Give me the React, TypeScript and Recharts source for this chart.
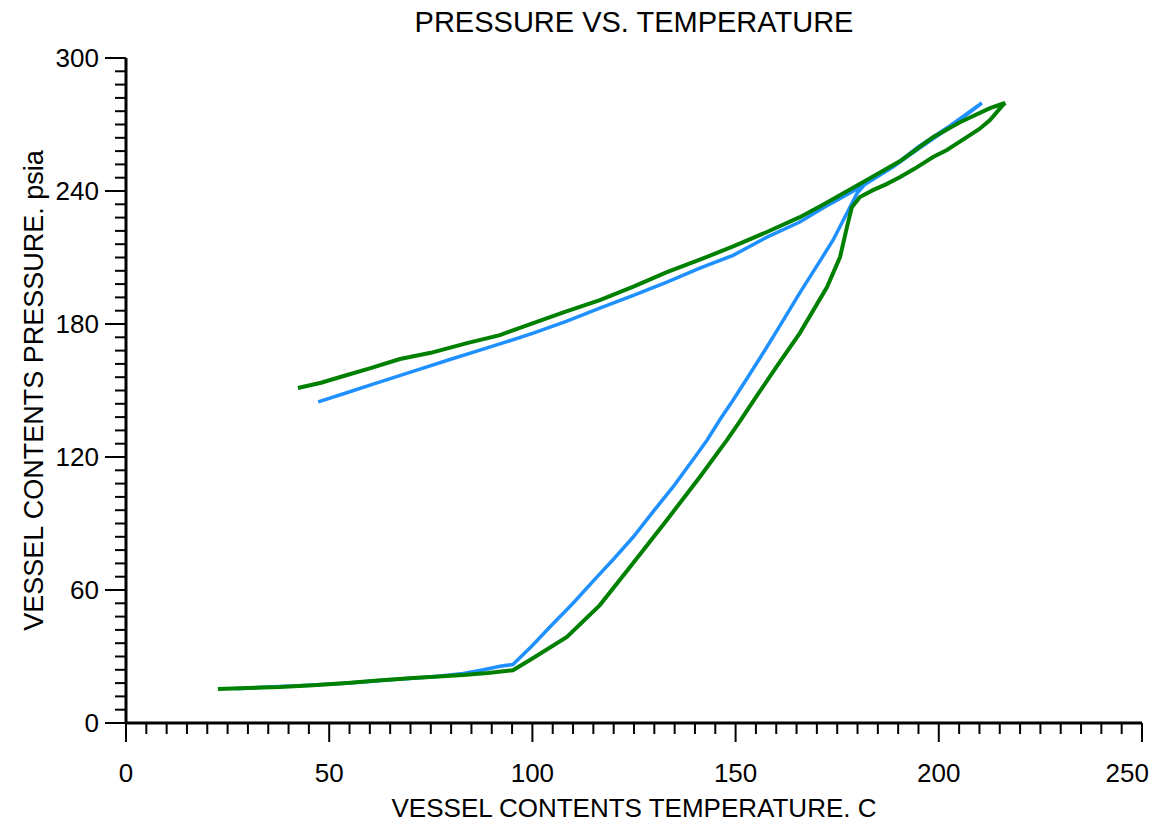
import React from 'react';
import { LineChart, Line, XAxis, YAxis } from 'recharts';

// Blue run: heat-up along the lower branch, then back down along the upper branch
const BLUE_TEMP = [
  27, 35, 45, 55, 65, 75, 83, 88, 92, 95.2,
  100, 104.3, 110, 115.9, 120, 124.8, 130, 134.6, 140, 143, 146.2, 149.4, 153, 157.7, 161, 165.8, 170, 174, 177, 179.9, 181.8,
  188.7, 195, 202.8, 207, 210.6,
  202.8, 195, 188.7, 181, 171.5, 165.8, 157.7, 149.4, 141.2, 133.1, 125, 116.6, 108, 100.2, 92, 87.1, 79.7, 70.6, 61, 54.3, 47.3,
];
const BLUE_PRESS = [
  15.5, 16.2, 17, 18, 19.5, 20.8, 22.3, 24, 25.6, 26.4,
  35, 43.3, 54, 65.9, 74, 83.9, 96, 106.5, 120, 127.7, 137, 145.7, 156, 169.6, 179.5, 194, 206.2, 217.9, 228.6, 239, 243,
  251, 260, 269.5, 275, 279.7,
  268.8, 259, 250.8, 242, 232.3, 226, 219.2, 211, 205.2, 198.9, 193, 187.2, 181, 175.9, 171, 168.2, 164, 158.6, 153, 149, 144.9,
];

// Green run
const GREEN_TEMP = [
  22.6, 30, 37.9, 46, 54.4, 62, 70.6, 77, 82.9, 89, 95.2,
  100.2, 108.5, 116.6, 124.8, 133.1, 141.2, 147.9, 151, 155, 160, 165.8, 172.5, 175.7, 177.4, 178.6, 180.6, 183.8, 187, 190.5, 194, 198.6, 202, 206.9, 210, 212.6, 215.8, 216.3,
  212.6, 205.2, 198.6, 190.5, 182.3, 171.5, 165.8, 157.7, 149.4, 141.2, 133.1, 125, 116.6, 108, 100.2, 92, 83.9, 75, 67.4, 60, 54.4, 48, 42.3,
];
const GREEN_PRESS = [
  15.3, 15.8, 16.2, 17, 18, 19.2, 20.3, 21, 21.7, 22.6, 23.8,
  29.3, 38.8, 53.2, 72.2, 91.6, 111, 127.7, 136, 147, 160.5, 175.9, 196.7, 210.2, 223.7, 232.7, 237.3, 240.4, 243, 246.3, 250, 255.3, 258.5, 264.3, 268, 272, 278.8, 279.7,
  277.4, 271, 264.3, 253.5, 245, 233.8, 228.2, 221.5, 215, 209, 203.4, 197, 190.8, 185.5, 180.4, 175, 171.4, 167, 164.2, 160, 157, 153.5, 151.1,
];

const X_MAJOR = [0, 50, 100, 150, 200, 250];
const X_MINOR_STEP = 5;
const Y_MAJOR = [0, 60, 120, 180, 240, 300];
const Y_MINOR_STEP = 6;

const FONT = '"Liberation Sans", Arial, sans-serif';

const blueData = BLUE_TEMP.map((t, i) => ({ t, p: BLUE_PRESS[i] }));
const greenData = GREEN_TEMP.map((t, i) => ({ t, p: GREEN_PRESS[i] }));

const stepTicks = (max: number, step: number) => {
  const out: number[] = [];
  for (let v = 0; v <= max + 1e-9; v += step) out.push(Math.round(v * 100) / 100);
  return out;
};
const xTicks = stepTicks(X_MAJOR[X_MAJOR.length - 1], X_MINOR_STEP);
const yTicks = stepTicks(Y_MAJOR[Y_MAJOR.length - 1], Y_MINOR_STEP);

const XTick = ({ x, y, payload }: any) => {
  const major = X_MAJOR.includes(payload.value);
  const last = payload.value === X_MAJOR[X_MAJOR.length - 1];
  return (
    <g>
      <line x1={x} x2={x} y1={y} y2={y + (major ? 19 : 11)} stroke="#000" strokeWidth={2} />
      {major && (
        <text
          x={last ? x + 7 : x}
          y={y + 59}
          textAnchor={last ? 'end' : 'middle'}
          fontSize={26}
          fontFamily={FONT}
          fill="#000"
        >
          {payload.value}
        </text>
      )}
    </g>
  );
};

const YTick = ({ x, y, payload }: any) => {
  const major = Y_MAJOR.includes(payload.value);
  return (
    <g>
      <line x1={x - (major ? 21 : 11)} x2={x} y1={y} y2={y} stroke="#000" strokeWidth={2} />
      {major && (
        <text x={x - 27} y={y + 9} textAnchor="end" fontSize={26} fontFamily={FONT} fill="#000">
          {payload.value}
        </text>
      )}
    </g>
  );
};

const XLabel = ({ viewBox }: any) => (
  <text
    x={viewBox.x + viewBox.width / 2}
    y={viewBox.y + 94}
    textAnchor="middle"
    fontSize={26}
    fontFamily={FONT}
    fill="#000"
  >
    VESSEL CONTENTS TEMPERATURE. C
  </text>
);

const YLabel = ({ viewBox }: any) => {
  const cx = 43;
  const cy = viewBox.y + viewBox.height / 2;
  return (
    <text
      x={cx}
      y={cy}
      transform={`rotate(-90 ${cx} ${cy})`}
      textAnchor="middle"
      fontSize={27}
      fontFamily={FONT}
      fill="#000"
    >
      VESSEL CONTENTS PRESSURE. psia
    </text>
  );
};

export default function App() {
  return (
    <div style={{ position: 'absolute', left: 0, top: 0, width: 1156, height: 824, background: '#fff' }}>
      <LineChart width={1156} height={824} margin={{ top: 58, right: 14, bottom: 0, left: 0 }}>
        <text x={634} y={32} textAnchor="middle" fontSize={29} fontFamily={FONT} fill="#000">
          PRESSURE VS. TEMPERATURE
        </text>
        <XAxis
          type="number"
          dataKey="t"
          domain={[0, 250]}
          ticks={xTicks}
          interval={0}
          height={101}
          tickSize={0}
          tickMargin={0}
          tickLine={false}
          axisLine={{ stroke: '#000', strokeWidth: 3 }}
          tick={<XTick />}
          label={{ content: <XLabel /> }}
          allowDataOverflow
        />
        <YAxis
          type="number"
          dataKey="p"
          domain={[0, 300]}
          ticks={yTicks}
          interval={0}
          width={126}
          tickSize={0}
          tickMargin={0}
          tickLine={false}
          axisLine={{ stroke: '#000', strokeWidth: 3 }}
          tick={<YTick />}
          label={{ content: <YLabel /> }}
          allowDataOverflow
        />
        <Line
          data={blueData}
          dataKey="p"
          type="linear"
          stroke="#1E90FF"
          strokeWidth={3.5}
          dot={false}
          isAnimationActive={false}
        />
        <Line
          data={greenData}
          dataKey="p"
          type="linear"
          stroke="#008000"
          strokeWidth={4}
          dot={false}
          isAnimationActive={false}
        />
      </LineChart>
    </div>
  );
}
